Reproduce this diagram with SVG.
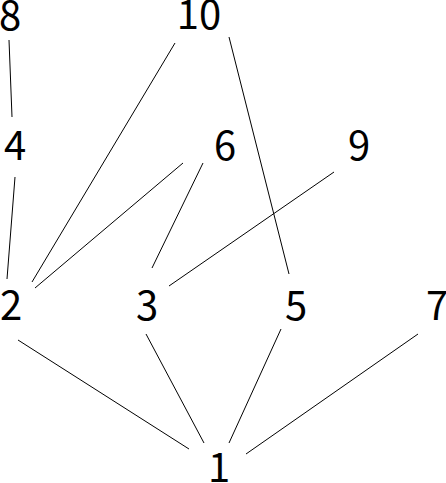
<svg xmlns="http://www.w3.org/2000/svg" width="446" height="483" viewBox="0 0 446 483">
<style>
text{font-family:"Noto Sans CJK JP","Noto Sans",sans-serif;font-size:40px;fill:#000;text-anchor:middle}
line{stroke:#000;stroke-width:1}
</style>
<rect width="446" height="483" fill="#fff"/>
<g id="connectors">
<line x1="9" y1="40" x2="12" y2="117"/>
<line x1="15" y1="177" x2="7" y2="279"/>
<line x1="175" y1="43" x2="32" y2="282"/>
<line x1="183" y1="163" x2="35" y2="288"/>
<line x1="229" y1="37" x2="289" y2="274"/>
<line x1="203" y1="163" x2="152" y2="268"/>
<line x1="334" y1="172" x2="169" y2="286"/>
<line x1="18" y1="340" x2="189" y2="449"/>
<line x1="146" y1="334" x2="204" y2="443"/>
<line x1="281" y1="329" x2="229" y2="443"/>
<line x1="418" y1="334" x2="246" y2="454"/>
</g>
<g id="n8"><text x="10" y="30">8</text></g>
<g id="n10"><text x="199" y="29">10</text></g>
<g id="n4"><text x="15" y="160">4</text></g>
<g id="n6"><text x="225" y="160">6</text></g>
<g id="n9"><text x="359" y="160">9</text></g>
<g id="n2"><text x="11" y="320">2</text></g>
<g id="n3"><text x="147" y="320">3</text></g>
<g id="n5"><text x="296" y="320">5</text></g>
<g id="n7"><text x="437" y="320">7</text></g>
<g id="n1"><text x="219" y="482">1</text></g>
</svg>
